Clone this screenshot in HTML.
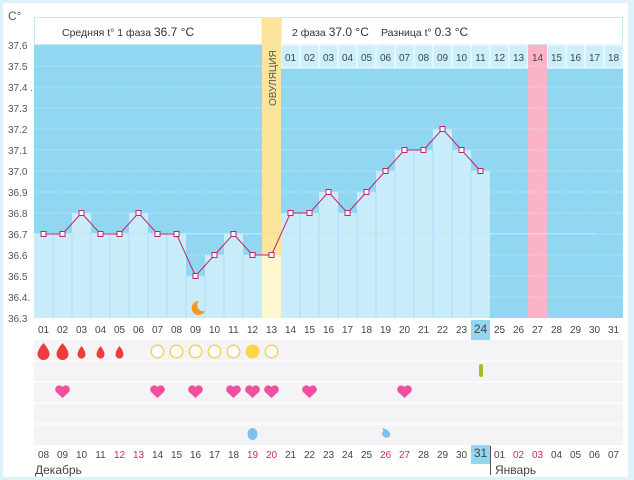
<!DOCTYPE html>
<html><head><meta charset="utf-8"><style>
html,body{margin:0;padding:0;background:#fff}
svg{display:block;font-family:"Liberation Sans","DejaVu Sans",sans-serif}
</style></head><body>
<svg width="634" height="480" viewBox="0 0 634 480" xmlns="http://www.w3.org/2000/svg">
<rect x="0" y="0" width="634" height="480" fill="#dff1fa"/>
<rect x="3" y="3" width="625" height="474" fill="#fff" rx="3"/>
<!-- header -->
<rect x="34.5" y="17.5" width="588" height="27" fill="#fff" stroke="#cde8f5"/>
<line x1="262" y1="17" x2="262" y2="45" stroke="#cde8f5"/>
<line x1="281" y1="17" x2="281" y2="45" stroke="#cde8f5"/>
<text x="62" y="36" font-size="10.5" fill="#333">Средняя t° 1 фаза <tspan font-size="12">36.7 °C</tspan></text>
<text x="292" y="36" font-size="10.5" fill="#333">2 фаза <tspan font-size="12">37.0 °C</tspan></text>
<text x="381" y="36" font-size="10.5" fill="#333">Разница t° <tspan font-size="12">0.3 °C</tspan></text>
<circle cx="271.5" cy="31" r="6.5" fill="#fdd84a"/>
<text x="8" y="20" font-size="12" fill="#555">C°</text>
<!-- chart background -->
<rect x="34" y="45" width="589" height="273" fill="#92d7f2"/>
<g fill="#cdeefb" stroke="#fff">
<rect x="281" y="45" width="247" height="23"/><rect x="547" y="45" width="76" height="23"/>
</g>
<rect x="528" y="45" width="19" height="273" fill="#fab3c7"/>
<g stroke="#fff" stroke-width="1">
<line x1="300" y1="45" x2="300" y2="68"/><line x1="319" y1="45" x2="319" y2="68"/><line x1="338" y1="45" x2="338" y2="68"/><line x1="357" y1="45" x2="357" y2="68"/><line x1="376" y1="45" x2="376" y2="68"/><line x1="395" y1="45" x2="395" y2="68"/><line x1="414" y1="45" x2="414" y2="68"/><line x1="433" y1="45" x2="433" y2="68"/><line x1="452" y1="45" x2="452" y2="68"/><line x1="471" y1="45" x2="471" y2="68"/><line x1="490" y1="45" x2="490" y2="68"/><line x1="509" y1="45" x2="509" y2="68"/><line x1="566" y1="45" x2="566" y2="68"/><line x1="585" y1="45" x2="585" y2="68"/><line x1="604" y1="45" x2="604" y2="68"/>
</g>
<g font-size="10" fill="#444" text-anchor="middle">
<text x="290.5" y="61">01</text><text x="309.5" y="61">02</text><text x="328.5" y="61">03</text><text x="347.5" y="61">04</text><text x="366.5" y="61">05</text><text x="385.5" y="61">06</text><text x="404.5" y="61">07</text><text x="423.5" y="61">08</text><text x="442.5" y="61">09</text><text x="461.5" y="61">10</text><text x="480.5" y="61">11</text><text x="499.5" y="61">12</text><text x="518.5" y="61">13</text><text x="537.5" y="61">14</text><text x="556.5" y="61">15</text><text x="575.5" y="61">16</text><text x="594.5" y="61">17</text><text x="613.5" y="61">18</text>
</g>
<g stroke="#d8f1fb" stroke-dasharray="1,2">
<line x1="34" y1="66" x2="623" y2="66"/><line x1="34" y1="87" x2="623" y2="87"/><line x1="34" y1="108" x2="623" y2="108"/><line x1="34" y1="129" x2="623" y2="129"/><line x1="34" y1="150" x2="623" y2="150"/><line x1="34" y1="171" x2="623" y2="171"/><line x1="34" y1="192" x2="623" y2="192"/><line x1="34" y1="213" x2="623" y2="213"/><line x1="34" y1="234" x2="623" y2="234"/><line x1="34" y1="255" x2="623" y2="255"/><line x1="34" y1="276" x2="623" y2="276"/><line x1="34" y1="297" x2="623" y2="297"/>
</g>
<path d="M34,318 V234 H72 V213 H91 V234 H129 V213 H148 V234 H186 V276 H205 V255 H224 V234 H243 V255 H281 V213 H319 V192 H338 V213 H357 V192 H376 V171 H395 V150 H433 V129 H452 V150 H471 V171 H490 V318 Z" fill="#c9ecfb"/>
<rect x="262" y="17" width="19" height="238" fill="#fbe49c"/>
<rect x="262" y="255" width="19" height="63" fill="#fdf6cf"/>
<text transform="translate(276,106) rotate(-90)" font-size="10" fill="#555">ОВУЛЯЦИЯ</text>
<g stroke="#a9def3">
<line x1="53" y1="234" x2="53" y2="318"/><line x1="72" y1="234" x2="72" y2="318"/><line x1="91" y1="234" x2="91" y2="318"/><line x1="110" y1="234" x2="110" y2="318"/><line x1="129" y1="234" x2="129" y2="318"/><line x1="148" y1="234" x2="148" y2="318"/><line x1="167" y1="234" x2="167" y2="318"/><line x1="186" y1="276" x2="186" y2="318"/><line x1="205" y1="276" x2="205" y2="318"/><line x1="224" y1="255" x2="224" y2="318"/><line x1="243" y1="255" x2="243" y2="318"/><line x1="300" y1="213" x2="300" y2="318"/><line x1="319" y1="213" x2="319" y2="318"/><line x1="338" y1="213" x2="338" y2="318"/><line x1="357" y1="213" x2="357" y2="318"/><line x1="376" y1="192" x2="376" y2="318"/><line x1="395" y1="171" x2="395" y2="318"/><line x1="414" y1="150" x2="414" y2="318"/><line x1="433" y1="150" x2="433" y2="318"/><line x1="452" y1="150" x2="452" y2="318"/><line x1="471" y1="171" x2="471" y2="318"/>
</g>
<line x1="34" y1="233.5" x2="596" y2="233.5" stroke="#f4e27a" stroke-width="1"/>
<g font-size="10" fill="#555">
<text x="8" y="49">37.6</text><text x="8" y="70">37.5</text><text x="8" y="91">37.4 .</text><text x="8" y="112">37.3</text><text x="8" y="133">37.2</text><text x="8" y="154">37.1</text><text x="8" y="175">37.0</text><text x="8" y="196">36.9</text><text x="8" y="217">36.8</text><text x="8" y="238">36.7</text><text x="8" y="259">36.6</text><text x="8" y="280">36.5</text><text x="8" y="301">36.4.</text><text x="8" y="322">36.3</text>
</g>
<polyline fill="none" stroke="#c2246a" stroke-width="1" points="43.5,234 62.5,234 81.5,213 100.5,234 119.5,234 138.5,213 157.5,234 176.5,234 195.5,276 214.5,255 233.5,234 252.5,255 271.5,255 290.5,213 309.5,213 328.5,192 347.5,213 366.5,192 385.5,171 404.5,150 423.5,150 442.5,129 461.5,150 480.5,171"/>
<g fill="#fff" stroke="#c2246a">
<rect x="41" y="231.5" width="5" height="5"/><rect x="60" y="231.5" width="5" height="5"/><rect x="79" y="210.5" width="5" height="5"/><rect x="98" y="231.5" width="5" height="5"/><rect x="117" y="231.5" width="5" height="5"/><rect x="136" y="210.5" width="5" height="5"/><rect x="155" y="231.5" width="5" height="5"/><rect x="174" y="231.5" width="5" height="5"/><rect x="193" y="273.5" width="5" height="5"/><rect x="212" y="252.5" width="5" height="5"/><rect x="231" y="231.5" width="5" height="5"/><rect x="250" y="252.5" width="5" height="5"/><rect x="269" y="252.5" width="5" height="5"/><rect x="288" y="210.5" width="5" height="5"/><rect x="307" y="210.5" width="5" height="5"/><rect x="326" y="189.5" width="5" height="5"/><rect x="345" y="210.5" width="5" height="5"/><rect x="364" y="189.5" width="5" height="5"/><rect x="383" y="168.5" width="5" height="5"/><rect x="402" y="147.5" width="5" height="5"/><rect x="421" y="147.5" width="5" height="5"/><rect x="440" y="126.5" width="5" height="5"/><rect x="459" y="147.5" width="5" height="5"/><rect x="478" y="168.5" width="5" height="5"/>
</g>
<path d="M199,301 a7,7 0 1 0 6,10 a6,6 0 0 1 -6,-10z" fill="#f39a1e"/>
<rect x="34" y="340" width="589" height="105" fill="#f4f4f6"/>
<g stroke="#fff">
<line x1="34" y1="361" x2="623" y2="361"/><line x1="34" y1="382" x2="623" y2="382"/><line x1="34" y1="403" x2="623" y2="403"/><line x1="34" y1="424" x2="623" y2="424"/>
</g>
<rect x="471" y="320" width="19" height="20" fill="#92d7f2"/>
<rect x="471" y="445" width="19" height="19" fill="#92d7f2"/>
<line x1="490.5" y1="446" x2="490.5" y2="475" stroke="#555"/>
<g font-size="10" fill="#444" text-anchor="middle">
<text x="43.5" y="333">01</text><text x="62.5" y="333">02</text><text x="81.5" y="333">03</text><text x="100.5" y="333">04</text><text x="119.5" y="333">05</text><text x="138.5" y="333">06</text><text x="157.5" y="333">07</text><text x="176.5" y="333">08</text><text x="195.5" y="333">09</text><text x="214.5" y="333">10</text><text x="233.5" y="333">11</text><text x="252.5" y="333">12</text><text x="271.5" y="333">13</text><text x="290.5" y="333">14</text><text x="309.5" y="333">15</text><text x="328.5" y="333">16</text><text x="347.5" y="333">17</text><text x="366.5" y="333">18</text><text x="385.5" y="333">19</text><text x="404.5" y="333">20</text><text x="423.5" y="333">21</text><text x="442.5" y="333">22</text><text x="461.5" y="333">23</text><text x="480.5" y="333" font-size="12">24</text><text x="499.5" y="333">25</text><text x="518.5" y="333">26</text><text x="537.5" y="333">27</text><text x="556.5" y="333">28</text><text x="575.5" y="333">29</text><text x="594.5" y="333">30</text><text x="613.5" y="333">31</text>
<text x="43.5" y="458">08</text><text x="62.5" y="458">09</text><text x="81.5" y="458">10</text><text x="100.5" y="458">11</text><text x="119.5" y="458" fill="#d0285a">12</text><text x="138.5" y="458" fill="#d0285a">13</text><text x="157.5" y="458">14</text><text x="176.5" y="458">15</text><text x="195.5" y="458">16</text><text x="214.5" y="458">17</text><text x="233.5" y="458">18</text><text x="252.5" y="458" fill="#d0285a">19</text><text x="271.5" y="458" fill="#d0285a">20</text><text x="290.5" y="458">21</text><text x="309.5" y="458">22</text><text x="328.5" y="458">23</text><text x="347.5" y="458">24</text><text x="366.5" y="458">25</text><text x="385.5" y="458" fill="#d0285a">26</text><text x="404.5" y="458" fill="#d0285a">27</text><text x="423.5" y="458">28</text><text x="442.5" y="458">29</text><text x="461.5" y="458">30</text><text x="480.5" y="457" font-size="12">31</text><text x="499.5" y="458">01</text><text x="518.5" y="458" fill="#d0285a">02</text><text x="537.5" y="458" fill="#d0285a">03</text><text x="556.5" y="458">04</text><text x="575.5" y="458">05</text><text x="594.5" y="458">06</text><text x="613.5" y="458">07</text>
</g>
<g font-size="12" fill="#444">
<text x="35" y="474">Декабрь</text><text x="495" y="474">Январь</text>
</g>
<g fill="#ee3b3b">
<path d="M43.5,343 q-6,7 -6,11 a6,6 0 0 0 12,0 q0,-4 -6,-11z"/>
<path d="M62.5,343 q-6,7 -6,11 a6,6 0 0 0 12,0 q0,-4 -6,-11z"/>
<path d="M81.5,346 q-4,5 -4,8.5 a4,4 0 0 0 8,0 q0,-3.5 -4,-8.5z"/>
<path d="M100.5,346 q-4,5 -4,8.5 a4,4 0 0 0 8,0 q0,-3.5 -4,-8.5z"/>
<path d="M119.5,346 q-4,5 -4,8.5 a4,4 0 0 0 8,0 q0,-3.5 -4,-8.5z"/>
</g>
<g fill="#fff" stroke="#f6cf48" stroke-width="1.3">
<circle cx="157.5" cy="351.5" r="6.3"/><circle cx="176.5" cy="351.5" r="6.3"/><circle cx="195.5" cy="351.5" r="6.3"/><circle cx="214.5" cy="351.5" r="6.3"/><circle cx="233.5" cy="351.5" r="6.3"/><circle cx="271.5" cy="351.5" r="6.3"/>
</g>
<circle cx="252.5" cy="351.5" r="7" fill="#fbd649"/>
<rect x="479" y="364" width="4" height="13" rx="2" fill="#9ec321"/>
<g fill="#f0509f">
<path d="M62.5,398 l-6.5,-6 a3.6,3.6 0 0 1 6.5,-5 a3.6,3.6 0 0 1 6.5,5z"/>
<path d="M157.5,398 l-6.5,-6 a3.6,3.6 0 0 1 6.5,-5 a3.6,3.6 0 0 1 6.5,5z"/>
<path d="M195.5,398 l-6.5,-6 a3.6,3.6 0 0 1 6.5,-5 a3.6,3.6 0 0 1 6.5,5z"/>
<path d="M233.5,398 l-6.5,-6 a3.6,3.6 0 0 1 6.5,-5 a3.6,3.6 0 0 1 6.5,5z"/>
<path d="M252.5,398 l-6.5,-6 a3.6,3.6 0 0 1 6.5,-5 a3.6,3.6 0 0 1 6.5,5z"/>
<path d="M271.5,398 l-6.5,-6 a3.6,3.6 0 0 1 6.5,-5 a3.6,3.6 0 0 1 6.5,5z"/>
<path d="M309.5,398 l-6.5,-6 a3.6,3.6 0 0 1 6.5,-5 a3.6,3.6 0 0 1 6.5,5z"/>
<path d="M404.5,398 l-6.5,-6 a3.6,3.6 0 0 1 6.5,-5 a3.6,3.6 0 0 1 6.5,5z"/>
</g>
<ellipse cx="252.5" cy="434" rx="5" ry="6" fill="#7cc0ec"/>
<path d="M382,428 q9,2 8,8 a4.5,4.5 0 0 1 -8,-3 q2,-2 0,-5z" fill="#7cc0ec"/>
</svg>
</body></html>
